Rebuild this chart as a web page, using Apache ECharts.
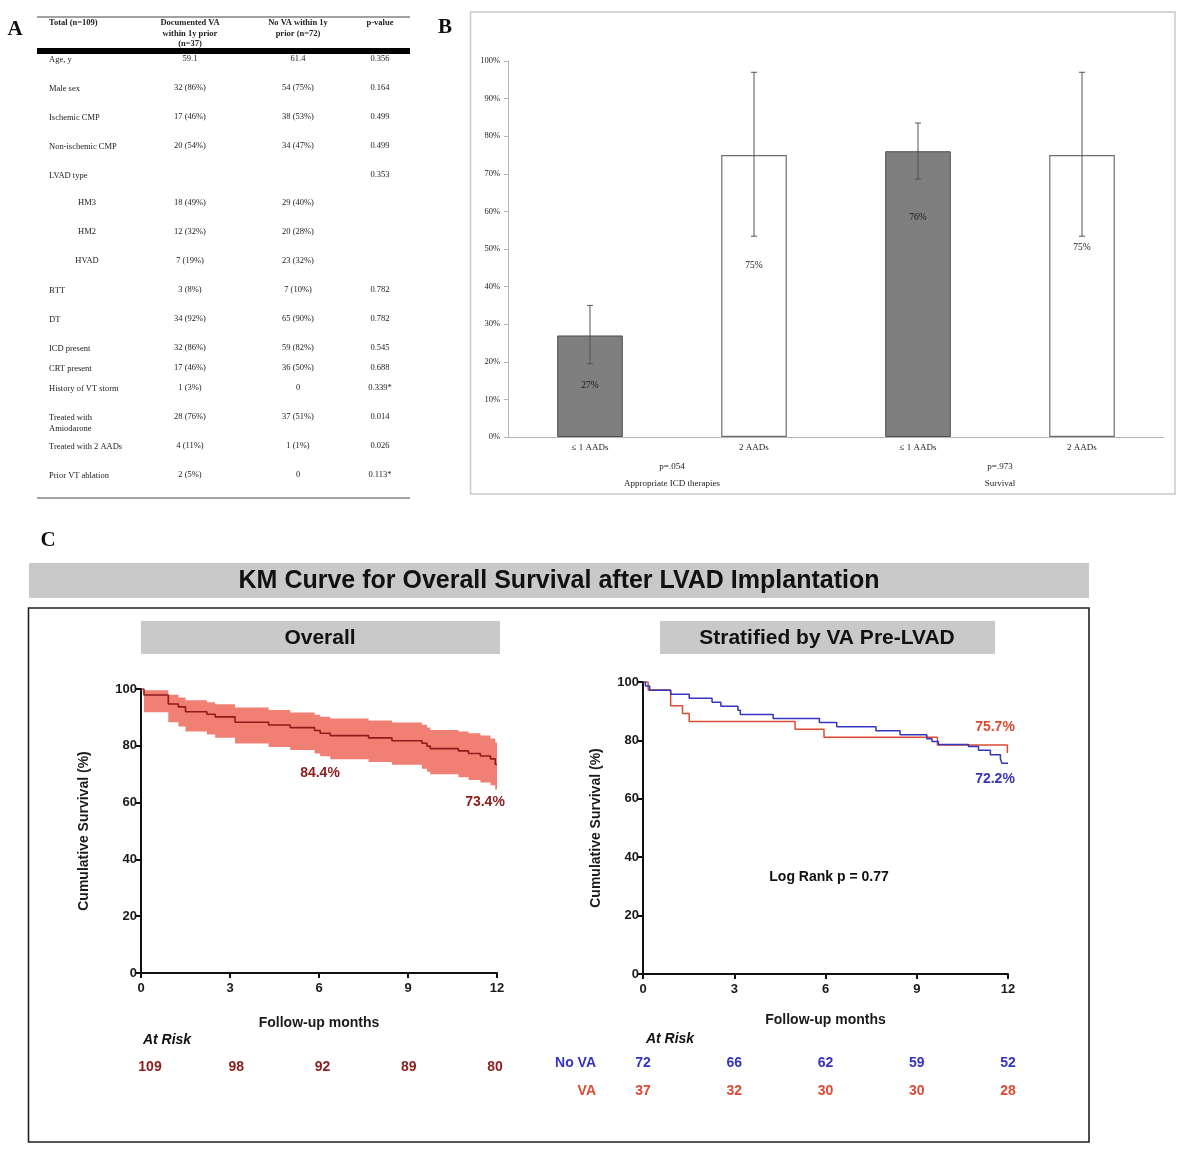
<!DOCTYPE html>
<html><head><meta charset="utf-8">
<script src="https://cdn.jsdelivr.net/npm/echarts@6/dist/echarts.min.js"></script>
<style>html,body{margin:0;padding:0;background:#fff}#c{width:1200px;height:1149px}</style>
</head><body><div id="c"></div>
<script>
// ---------- Panel A: table ----------
const tableHeaders = ['Total (n=109)', 'Documented VA\nwithin 1y prior\n(n=37)', 'No VA within 1y\nprior (n=72)', 'p-value'];
const rowLabels = ['Age, y','Male sex','Ischemic CMP','Non-ischemic CMP','LVAD type','HM3','HM2','HVAD','BTT','DT','ICD present','CRT present','History of VT storm','Treated with\nAmiodarone','Treated with 2 AADs','Prior VT ablation'];
const colVA = ['59.1','32 (86%)','17 (46%)','20 (54%)','','18 (49%)','12 (32%)','7 (19%)','3 (8%)','34 (92%)','32 (86%)','17 (46%)','1 (3%)','28 (76%)','4 (11%)','2 (5%)'];
const colNoVA = ['61.4','54 (75%)','38 (53%)','34 (47%)','','29 (40%)','20 (28%)','23 (32%)','7 (10%)','65 (90%)','59 (82%)','36 (50%)','0','37 (51%)','1 (1%)','0'];
const colP = ['0.356','0.164','0.499','0.499','0.353','','','','0.782','0.782','0.545','0.688','0.339*','0.014','0.026','0.113*'];
const indentedRows = ['HM3','HM2','HVAD'];

// ---------- Panel B: bars ----------
const barCats = ['≤ 1 AADs','2 AADs','≤ 1 AADs','2 AADs'];
const barValues = [27, 75, 76, 75];
const errLow = [19.5, 53.4, 68.6, 53.4];
const errHigh = [35.0, 97.0, 83.5, 97.0];
const barLabels = ['27%','75%','76%','75%'];
const barLabelY = [13.6, 45.5, 58.3, 50.3];
const groupLabels = ['p=.054\nAppropriate ICD therapies', 'p=.973\nSurvival'];

// ---------- Panel C: KM overall ----------
const kmTime  = [0, 0.1, 0.92, 1.26, 1.5, 2.22, 2.5, 3.17, 4.3, 5.03, 5.85, 6.04, 6.38, 7.67, 8.46, 9.47, 9.64, 9.75, 10.7, 11.04, 11.44, 11.78, 11.94, 12];
const kmSurv  = [100, 97.9, 94.7, 93.7, 92.0, 91.1, 90.2, 88.3, 87.3, 86.4, 85.4, 84.4, 83.6, 82.8, 81.8, 80.9, 79.9, 79.0, 78.2, 77.3, 76.4, 75.4, 73.4, 73.4];
const kmUpper = [100, 99.6, 98.0, 97.0, 96.0, 95.3, 94.6, 93.5, 92.6, 91.7, 90.9, 90.2, 89.6, 88.9, 88.2, 87.4, 86.4, 85.6, 85.0, 84.4, 83.6, 82.6, 81.2, 81.2];
const kmLower = [100, 91.8, 88.3, 86.8, 85.0, 84.0, 82.8, 80.8, 79.6, 78.5, 77.3, 76.3, 75.3, 74.3, 73.3, 71.9, 70.9, 70.0, 68.9, 68.0, 67.1, 66.1, 64.6, 64.6];

// ---------- Panel C: KM stratified ----------
const noVaTime = [0, 0.08, 0.22, 0.91, 1.52, 2.27, 2.56, 3.12, 3.2, 4.28, 5.8, 6.37, 7.66, 8.45, 9.33, 9.5, 9.71, 10.7, 11.03, 11.42, 11.75, 11.8, 12];
const noVaSurv = [100, 98.6, 97.2, 95.8, 94.4, 93.1, 91.7, 90.3, 88.9, 87.5, 86.1, 84.7, 83.3, 81.9, 80.6, 79.6, 78.6, 77.9, 76.6, 75.1, 73.7, 72.2, 72.2];
const vaTime = [0, 0.17, 0.91, 1.3, 1.52, 5.0, 5.95, 9.68, 11.98, 12];
const vaSurv = [100, 97.3, 91.9, 89.2, 86.5, 83.8, 81.1, 78.4, 75.7, 75.7];

// ---------- At risk ----------
const atRiskMonths = [0, 3, 6, 9, 12];
const atRiskAll = [109, 98, 92, 89, 80];
const atRiskNoVA = [72, 66, 62, 59, 52];
const atRiskVA = [37, 32, 30, 30, 28];

const serif = "'Liberation Serif','Times New Roman',serif";
const sans = "'Liberation Sans',Arial,sans-serif";
const darkRed = '#8e1c1c', bandCol = '#ef8073', blue = '#3434c0', red = '#dc4a33';
const clear = 'rgba(0,0,0,0)';

function T(x, y, text, o) {
  o = o || {};
  return {
    type: 'text', x: x, y: y, z: o.z || 10,
    style: {
      text: text, fill: o.fill || '#222',
      fontFamily: o.family || serif, fontSize: o.size || 8.5,
      fontWeight: o.weight || 'normal', fontStyle: o.style || 'normal',
      align: o.align || 'left', verticalAlign: o.valign || 'middle',
      textAlign: o.align || 'left', textVerticalAlign: o.valign || 'middle',
      lineHeight: o.lh || undefined
    }
  };
}
function L(x1, y1, x2, y2, stroke, w) {
  return {type: 'line', shape: {x1, y1, x2, y2}, style: {stroke: stroke, lineWidth: w}, z: 5};
}
function R(x, y, w, h, fill, stroke, lw) {
  return {type: 'rect', shape: {x, y, width: w, height: h}, style: {fill: fill, stroke: stroke || null, lineWidth: lw || 0}, z: 1};
}

// table layout
const rowY = [59,88,117,146,175,203,232,261,290,319,348,368,388,417,446,475];
const colX = [49, 190, 298, 380];
const g = [];
g.push(T(15, 30, 'A', {size: 21, weight: 'bold', align: 'center', fill: '#111'}));
g.push(T(445, 28, 'B', {size: 21, weight: 'bold', align: 'center', fill: '#111'}));
g.push(T(48, 541, 'C', {size: 21, weight: 'bold', align: 'center', fill: '#111'}));
g.push(L(37, 17, 410, 17, '#444', 1));
g.push(R(37, 48, 373, 6, '#000'));
g.push(L(37, 498, 410, 498, '#444', 1));
g.push(T(colX[0], 18, tableHeaders[0], {weight: 'bold', valign: 'top', lh: 10.5}));
g.push(T(colX[1], 18, tableHeaders[1], {weight: 'bold', valign: 'top', align: 'center', lh: 10.5}));
g.push(T(colX[2], 18, tableHeaders[2], {weight: 'bold', valign: 'top', align: 'center', lh: 10.5}));
g.push(T(colX[3], 18, tableHeaders[3], {weight: 'bold', valign: 'top', align: 'center', lh: 10.5}));
rowLabels.forEach((lab, i) => {
  const y = rowY[i];
  if (indentedRows.indexOf(lab) >= 0) g.push(T(87, y, lab, {align: 'center'}));
  else g.push(T(colX[0], y - 5, lab, {valign: 'top', lh: 11}));
  g.push(T(colX[1], y, colVA[i], {align: 'center'}));
  g.push(T(colX[2], y, colNoVA[i], {align: 'center'}));
  g.push(T(colX[3], y, colP[i], {align: 'center'}));
});

// panel B frame
g.push(R(470.5, 12, 704.5, 482, 'none', '#c9c9c9', 1.5));

// panel C frames
g.push(R(29, 563, 1060, 35, '#c9c9c9'));
g.push(T(559, 581, 'KM Curve for Overall Survival after LVAD Implantation', {family: sans, size: 25, weight: 'bold', align: 'center', fill: '#111'}));
g.push(R(28.5, 608, 1060.5, 534, 'none', '#222', 1.6));
g.push(R(141, 621, 359, 33, '#c9c9c9'));
g.push(T(320, 638, 'Overall', {family: sans, size: 21, weight: 'bold', align: 'center', fill: '#111'}));
g.push(R(660, 621, 335, 33, '#c9c9c9'));
g.push(T(827, 638, 'Stratified by VA Pre-LVAD', {family: sans, size: 21, weight: 'bold', align: 'center', fill: '#111'}));
g.push(T(320, 773, '84.4%', {family: sans, size: 14, weight: 'bold', align: 'center', fill: darkRed}));
g.push(T(485, 802, '73.4%', {family: sans, size: 14, weight: 'bold', align: 'center', fill: darkRed}));
g.push(T(995, 727, '75.7%', {family: sans, size: 14, weight: 'bold', align: 'center', fill: red}));
g.push(T(995, 779, '72.2%', {family: sans, size: 14, weight: 'bold', align: 'center', fill: blue}));
g.push(T(829, 877, 'Log Rank p = 0.77', {family: sans, size: 14, weight: 'bold', align: 'center', fill: '#111'}));
g.push(T(167, 1040, 'At Risk', {family: sans, size: 14, weight: 'bold', style: 'italic', align: 'center', fill: '#111'}));
g.push(T(670, 1039, 'At Risk', {family: sans, size: 14, weight: 'bold', style: 'italic', align: 'center', fill: '#111'}));

const kmAxisLine = {show: true, lineStyle: {color: '#111', width: 2}};
const kmTick = {show: true, length: 5, lineStyle: {color: '#111', width: 2}};
const kmLabel = {fontFamily: sans, fontSize: 13, fontWeight: 'bold', color: '#1a1a1a'};
const kmName = {fontFamily: sans, fontSize: 14, fontWeight: 'bold', color: '#1a1a1a'};
const hiddenAxis = {axisLine: {show: false}, axisTick: {show: false}, axisLabel: {show: false}, splitLine: {show: false}};
const zip = (a, b) => a.map((v, i) => [v, b[i]]);
const plainLabel = (color, size, family, weight) => ({
  show: true, position: 'inside', color: color, fontSize: size, fontFamily: family, fontWeight: weight,
  textBorderWidth: 0, textBorderColor: 'transparent', opacity: 1
});

// CI band polygon (step shaped) drawn through the axis scale
function bandRender(params, api) {
  const pts = [];
  for (let i = 0; i < kmTime.length; i++) {
    pts.push(api.coord([kmTime[i], kmUpper[i]]));
    if (i + 1 < kmTime.length) pts.push(api.coord([kmTime[i + 1], kmUpper[i]]));
  }
  for (let i = kmTime.length - 1; i >= 0; i--) {
    if (i + 1 < kmTime.length) pts.push(api.coord([kmTime[i + 1], kmLower[i]]));
    pts.push(api.coord([kmTime[i], kmLower[i]]));
  }
  return {type: 'polygon', shape: {points: pts}, style: {fill: bandCol, stroke: null}};
}

const atRiskLabel = (color) => Object.assign(plainLabel(color, 14, sans, 'bold'), {formatter: (p) => String(p.value[2])});

const option = {
  animation: false,
  backgroundColor: '#fff',
  graphic: {elements: g},
  grid: [
    {left: 508, top: 61, width: 656, height: 376},
    {left: 141, top: 689, width: 356, height: 284},
    {left: 643, top: 682, width: 365, height: 292},
    {left: 150, top: 1055, width: 345, height: 24},
    {left: 643, top: 1049, width: 365, height: 56}
  ],
  xAxis: [
    {type: 'category', gridIndex: 0, data: barCats, position: 'bottom',
     axisLine: {lineStyle: {color: '#b5b5b5', width: 1}},
     axisTick: {length: 16, interval: 0, lineStyle: {color: '#b5b5b5'}},
     axisLabel: {interval: 0, margin: 6, fontFamily: serif, fontSize: 9, color: '#222'}},
    {type: 'category', gridIndex: 0, data: groupLabels, position: 'bottom', offset: 0,
     axisLine: {show: false},
     axisTick: {length: 53, interval: 0, lineStyle: {color: '#b5b5b5'}},
     axisLabel: {interval: 0, margin: 21, lineHeight: 17, fontFamily: serif, fontSize: 9, color: '#222'}},
    {type: 'value', gridIndex: 1, min: 0, max: 12, interval: 3, axisLine: kmAxisLine, axisTick: kmTick,
     axisLabel: Object.assign({margin: 9}, kmLabel), splitLine: {show: false},
     name: 'Follow-up months', nameLocation: 'middle', nameGap: 43, nameTextStyle: kmName},
    {type: 'value', gridIndex: 2, min: 0, max: 12, interval: 3, axisLine: kmAxisLine, axisTick: kmTick,
     axisLabel: Object.assign({margin: 9}, kmLabel), splitLine: {show: false},
     name: 'Follow-up months', nameLocation: 'middle', nameGap: 39, nameTextStyle: kmName},
    Object.assign({type: 'value', gridIndex: 3, min: 0, max: 12}, hiddenAxis),
    Object.assign({type: 'value', gridIndex: 4, min: 0, max: 12}, hiddenAxis)
  ],
  yAxis: [
    {type: 'value', gridIndex: 0, min: 0, max: 100, interval: 10,
     axisLine: {show: true, lineStyle: {color: '#b5b5b5'}},
     axisTick: {show: true, length: 4, lineStyle: {color: '#b5b5b5'}},
     axisLabel: {formatter: '{value}%', margin: 8, fontFamily: serif, fontSize: 8.5, color: '#222'},
     splitLine: {show: false}},
    {type: 'value', gridIndex: 1, min: 0, max: 100, interval: 20, axisLine: kmAxisLine, axisTick: kmTick,
     axisLabel: Object.assign({margin: 4}, kmLabel), splitLine: {show: false},
     name: 'Cumulative Survival (%)', nameLocation: 'middle', nameGap: 50, nameTextStyle: kmName},
    {type: 'value', gridIndex: 2, min: 0, max: 100, interval: 20, axisLine: kmAxisLine, axisTick: kmTick,
     axisLabel: Object.assign({margin: 4}, kmLabel), splitLine: {show: false},
     name: 'Cumulative Survival (%)', nameLocation: 'middle', nameGap: 40, nameTextStyle: kmName},
    Object.assign({type: 'category', gridIndex: 3, data: ['All']}, hiddenAxis),
    {type: 'category', gridIndex: 4, data: ['VA', 'No VA'], axisLine: {show: false}, axisTick: {show: false},
     splitLine: {show: false},
     axisLabel: {margin: 47, fontFamily: sans, fontSize: 14, fontWeight: 'bold',
                 color: (v) => v === 'VA' ? red : blue}}
  ],
  series: [
    {type: 'bar', xAxisIndex: 0, yAxisIndex: 0, barWidth: '40%',
     data: barValues.map((v, i) => ({value: v, itemStyle: i % 2 === 0
        ? {color: '#7f7f7f', borderColor: '#4d4d4d', borderWidth: 1}
        : {color: '#ffffff', borderColor: '#6e6e6e', borderWidth: 1.2}}))},
    {type: 'custom', xAxisIndex: 0, yAxisIndex: 0, z: 5,
     data: barCats.map((c, i) => [i, errLow[i], errHigh[i]]),
     encode: {x: 0, y: [1, 2]},
     renderItem: function (params, api) {
       const lo = api.coord([api.value(0), api.value(1)]);
       const hi = api.coord([api.value(0), api.value(2)]);
       const st = {stroke: '#555', lineWidth: 1};
       return {type: 'group', children: [
         {type: 'line', shape: {x1: lo[0], y1: lo[1], x2: hi[0], y2: hi[1]}, style: st},
         {type: 'line', shape: {x1: lo[0] - 3, y1: lo[1], x2: lo[0] + 3, y2: lo[1]}, style: st},
         {type: 'line', shape: {x1: hi[0] - 3, y1: hi[1], x2: hi[0] + 3, y2: hi[1]}, style: st}
       ]};
     }},
    {type: 'scatter', xAxisIndex: 0, yAxisIndex: 0, symbolSize: 1, itemStyle: {color: clear}, z: 6,
     data: barLabelY.map((y, i) => [i, y]),
     label: Object.assign(plainLabel('#1a1a1a', 9.5, serif, 'normal'), {formatter: (p) => barLabels[p.dataIndex]})},
    // KM overall CI band
    {type: 'custom', xAxisIndex: 2, yAxisIndex: 1, z: 2, data: [[0, 100]], renderItem: bandRender, silent: true},
    {type: 'line', xAxisIndex: 2, yAxisIndex: 1, step: 'end', symbol: 'none',
     lineStyle: {color: darkRed, width: 1.6}, data: zip(kmTime, kmSurv), z: 3},
    // KM stratified
    {type: 'line', xAxisIndex: 3, yAxisIndex: 2, step: 'end', symbol: 'none',
     lineStyle: {color: red, width: 1.5}, data: zip(vaTime, vaSurv), z: 3},
    {type: 'line', xAxisIndex: 3, yAxisIndex: 2, step: 'end', symbol: 'none',
     lineStyle: {color: blue, width: 1.5}, data: zip(noVaTime, noVaSurv), z: 4},
    // at risk
    {type: 'scatter', xAxisIndex: 4, yAxisIndex: 3, symbolSize: 1, itemStyle: {color: clear},
     data: atRiskMonths.map((m, i) => [m, 0, atRiskAll[i]]), label: atRiskLabel(darkRed)},
    {type: 'scatter', xAxisIndex: 5, yAxisIndex: 4, symbolSize: 1, itemStyle: {color: clear},
     data: atRiskMonths.map((m, i) => [m, 1, atRiskNoVA[i]]), label: atRiskLabel(blue)},
    {type: 'scatter', xAxisIndex: 5, yAxisIndex: 4, symbolSize: 1, itemStyle: {color: clear},
     data: atRiskMonths.map((m, i) => [m, 0, atRiskVA[i]]), label: atRiskLabel(red)}
  ]
};
const chart = echarts.init(document.getElementById('c'), null, {renderer: 'canvas'});
chart.setOption(option);
</script></body></html>
